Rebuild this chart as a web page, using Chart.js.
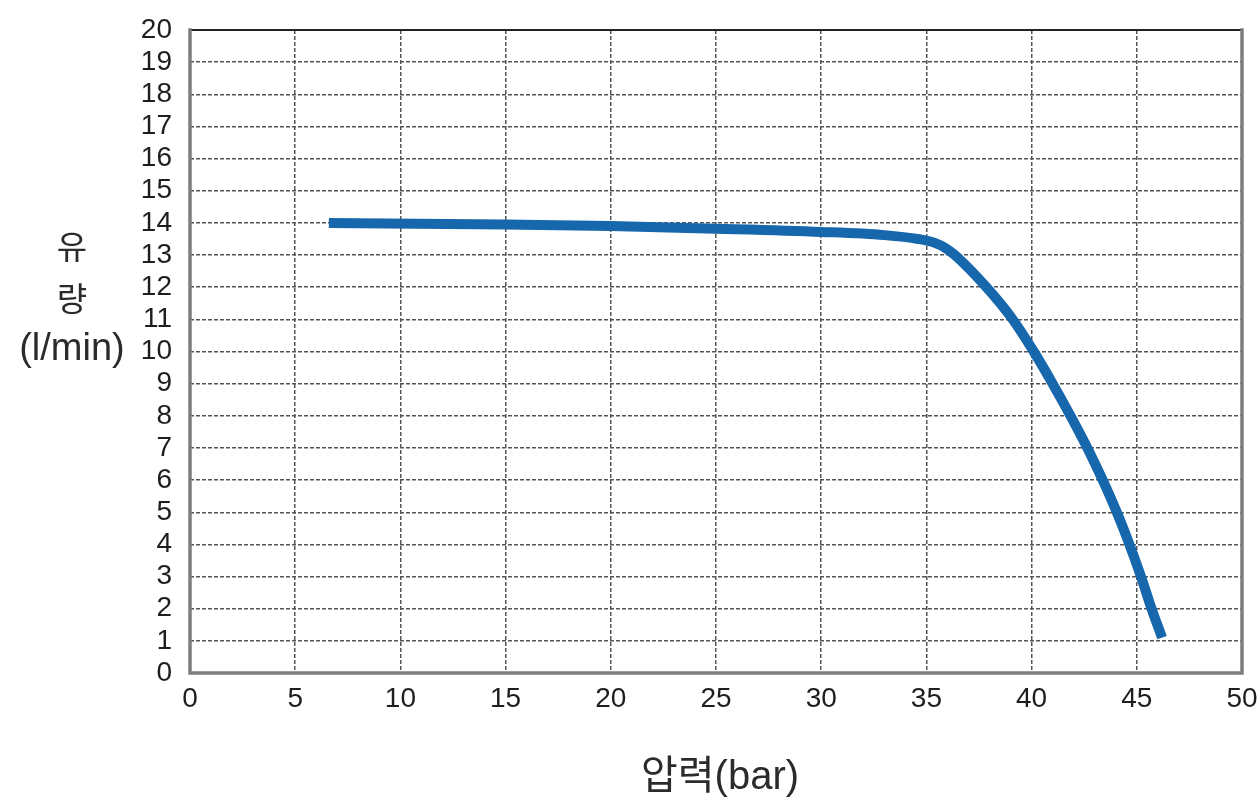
<!DOCTYPE html>
<html>
<head>
<meta charset="utf-8">
<script src="https://cdn.jsdelivr.net/npm/chart.js@4/dist/chart.umd.min.js"></script>
<style>
  html, body { margin:0; padding:0; background:#fff; }
  #wrap { position:relative; width:1259px; height:802px; }
  #flowChart { position:absolute; left:0; top:0; }
  .ttl { position:absolute; font-family:"Liberation Sans", Arial, "Noto Sans CJK KR", sans-serif; color:#2b2b2b; text-align:center; white-space:nowrap; }
  .yt { left:0; width:144px; }
  .ko { font-size:33px; line-height:40px; }
  .lat { font-size:38px; line-height:44px; }
  #xTitle { left:520px; top:752px; width:400px; font-size:40px; line-height:46px; }
</style>
</head>
<body>
<div id="wrap">
  <canvas id="flowChart" width="1259" height="802"></canvas>
  <div class="ttl yt ko" style="top:228px">유</div>
  <div class="ttl yt ko" style="top:280px">량</div>
  <div class="ttl yt lat" style="top:325px">(l/min)</div>
  <div class="ttl" id="xTitle">압력(bar)</div>
</div>
<script>
// pressure (bar) vs flow (l/min)
const pressure = [6.6, 15, 20, 25, 30, 33, 34.6, 35.4, 35.9, 36.35, 37.85, 39.1, 40.1, 41.0, 41.85, 42.65, 43.38, 44.05, 44.65, 45.2, 45.7, 46.2];
const flow     = [14.0, 13.95, 13.9, 13.82, 13.72, 13.62, 13.5, 13.38, 13.22, 13.0, 12, 11, 10, 9, 8, 7, 6, 5, 4, 3, 2, 1.1];

const xTicks = [0, 5, 10, 15, 20, 25, 30, 35, 40, 45, 50];
const yTicks = [0, 1, 2, 3, 4, 5, 6, 7, 8, 9, 10, 11, 12, 13, 14, 15, 16, 17, 18, 19, 20];

const tickFont = { family:"'Liberation Sans', Arial, sans-serif", size:28 };

const frame = {
  id:"frame",
  afterDraw(chart) {
    const { ctx, chartArea:a } = chart;
    ctx.save();
    ctx.lineCap = "square";
    ctx.strokeStyle = "#222";
    ctx.lineWidth = 2;
    ctx.beginPath(); ctx.moveTo(a.left, a.top); ctx.lineTo(a.right, a.top); ctx.stroke();
    ctx.strokeStyle = "#7d7d7d";
    ctx.lineWidth = 3.5;
    ctx.beginPath(); ctx.moveTo(a.left, a.top); ctx.lineTo(a.left, a.bottom); ctx.lineTo(a.right, a.bottom); ctx.lineTo(a.right, a.top); ctx.stroke();
    ctx.restore();
  }
};

new Chart(document.getElementById("flowChart"), {
  type:"line",
  data:{
    datasets:[{
      data:pressure.map((p, i) => ({ x:p, y:flow[i] })),
      borderColor:"#1767ad",
      borderWidth:10,
      cubicInterpolationMode:"monotone",
      pointRadius:0,
      fill:false
    }]
  },
  options:{
    responsive:false,
    animation:false,
    layout:{ padding:{ left:0, top:30, right:17, bottom:0 } },
    plugins:{ legend:{ display:false }, tooltip:{ enabled:false } },
    scales:{
      x:{
        type:"linear",
        min:0, max:50,
        afterBuildTicks:s => { s.ticks = xTicks.map(v => ({ value:v })); },
        afterFit:s => { s.height = 129; s.paddingLeft = 0; s.paddingRight = 0; },
        border:{ display:false, dash:[4,2] },
        grid:{ color:"#555", lineWidth:1.5, drawTicks:false },
        ticks:{ color:"#1e1e1e", font:tickFont, padding:9, maxRotation:0 }
      },
      y:{
        min:0, max:20,
        afterBuildTicks:s => { s.ticks = yTicks.map(v => ({ value:v })); },
        afterFit:s => { s.width = 190; s.paddingTop = 0; s.paddingBottom = 0; },
        border:{ display:false, dash:[4,2] },
        grid:{ color:"#555", lineWidth:1.5, drawTicks:false },
        ticks:{ color:"#1e1e1e", font:tickFont, padding:18, autoSkip:false }
      }
    }
  },
  plugins:[frame]
});
</script>
</body>
</html>
